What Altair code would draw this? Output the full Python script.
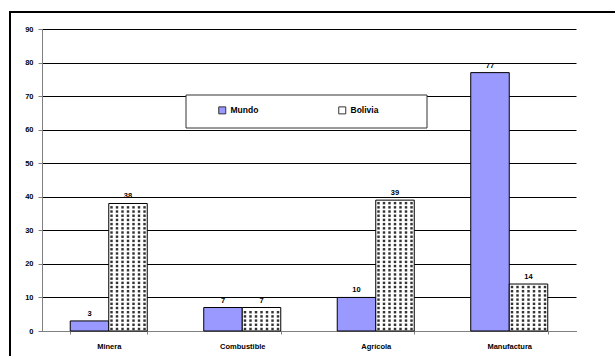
import altair as alt
import numpy as np
import pandas as pd

categories = ["Minera", "Combustible", "Agrícola", "Manufactura"]
series = ["Mundo", "Bolivia"]
mundo = [3, 7, 10, 77]
bolivia = [38, 7, 39, 14]
y_ticks = [0, 10, 20, 30, 40, 50, 60, 70, 80, 90]

rows = []
for c, m, b in zip(categories, mundo, bolivia):
    rows.append({"cat": c, "serie": "Mundo", "val": m})
    rows.append({"cat": c, "serie": "Bolivia", "val": b})
df = pd.DataFrame(rows)

# dotted texture for the Bolivia bars, derived from each bar's value
dots = []
for c, b in zip(categories, bolivia):
    for yv in np.arange(0.6, b - 0.3, 1.25):
        for col in range(7, 14):
            dots.append({"cat": c, "col": col, "y": float(yv)})
dots_df = pd.DataFrame(dots)

FONT = "Liberation Sans"
x_scale = alt.Scale(domain=categories, paddingInner=0.423, paddingOuter=0.2115)
y_scale = alt.Scale(domain=[0, 90], nice=False)

x_axis = alt.Axis(title=None, labelAngle=0, tickBand="extent",
                  domainColor="#808080", tickColor="#808080", tickSize=3,
                  labelFont=FONT, labelFontWeight="bold", labelFontSize=7.5,
                  labelColor="black", labelPadding=8, grid=False)
y_axis = alt.Axis(title=None, values=y_ticks, grid=True, gridColor="black",
                  gridWidth=1, domainColor="#808080", tickColor="#808080",
                  tickSize=4, labelFont=FONT, labelFontWeight="bold",
                  labelFontSize=7.5, labelColor="black", labelPadding=5,
                  labelOverlap=False)

frame = alt.Chart(alt.Data(values=[{"a": 1}])).mark_rect(
    filled=False, stroke="black", strokeWidth=2
).encode(x=alt.value(-32), x2=alt.value(620), y=alt.value(-17), y2=alt.value(400))

legend_box = alt.Chart(alt.Data(values=[{"a": 1}])).mark_rect(
    fill="white", stroke="#333333", strokeWidth=1
).encode(x=alt.value(144), x2=alt.value(385), y=alt.value(66), y2=alt.value(99))

bars = alt.Chart(df).mark_bar(stroke="black", strokeWidth=1).encode(
    x=alt.X("cat:N", scale=x_scale, sort=categories, axis=x_axis),
    xOffset=alt.XOffset("serie:N", sort=series,
                        scale=alt.Scale(domain=series, paddingInner=0, paddingOuter=0)),
    y=alt.Y("val:Q", scale=y_scale, axis=y_axis),
    fill=alt.Fill("serie:N", sort=series,
                  scale=alt.Scale(domain=series, range=["#9999ff", "white"]),
                  legend=alt.Legend(title=None, orient="none", direction="horizontal",
                                    legendX=176, legendY=77, symbolType="square",
                                    symbolSize=49, symbolStrokeColor="#333333",
                                    symbolStrokeWidth=1, labelFont=FONT,
                                    labelFontWeight="bold", labelFontSize=8.5,
                                    labelColor="black", columnPadding=77,
                                    labelOffset=4, padding=0)),
)

dot_layer = alt.Chart(dots_df).mark_square(size=6, color="#333333", opacity=1).encode(
    x=alt.X("cat:N", scale=x_scale, sort=categories, axis=x_axis),
    xOffset=alt.XOffset("col:O", scale=alt.Scale(type="point", domain=list(range(14)),
                                                  padding=0.5)),
    y=alt.Y("y:Q", scale=y_scale, axis=y_axis),
)

labels = alt.Chart(df).mark_text(
    font=FONT, fontWeight="bold", fontSize=7.5, color="black", dy=-5, baseline="alphabetic"
).encode(
    x=alt.X("cat:N", scale=x_scale, sort=categories, axis=x_axis),
    xOffset=alt.XOffset("serie:N", sort=series,
                        scale=alt.Scale(type="point", domain=series, padding=0.5)),
    y=alt.Y("val:Q", scale=y_scale, axis=y_axis),
    text=alt.Text("val:Q"),
)

chart = alt.layer(frame, legend_box, bars, dot_layer, labels).resolve_scale(
    xOffset="independent"
).properties(
    width=534, height=302,
    padding={"left": 42, "top": 29, "right": 39, "bottom": 25},
    autosize=alt.AutoSizeParams(type="none"),
    background="white",
).configure_view(strokeWidth=0)

chart.save("out.html", embed_options={"renderer": "svg", "actions": False})
